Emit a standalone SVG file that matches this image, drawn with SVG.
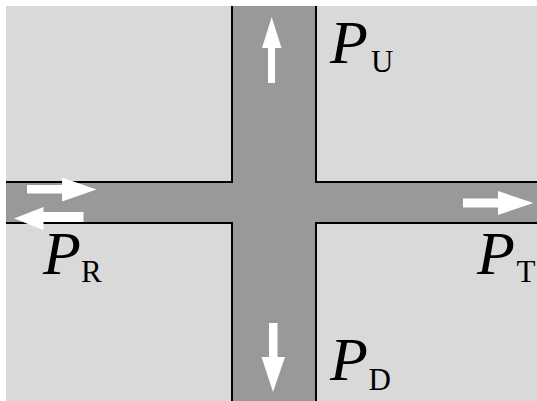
<svg xmlns="http://www.w3.org/2000/svg" width="537" height="401" viewBox="0 0 537 401">
<style>
.edge{fill:none;stroke:#000;stroke-width:2}
.arr{fill:#fff}
.P{font-family:"Liberation Serif",serif;font-style:italic;font-size:62px;fill:#000}
.s{font-family:"Liberation Serif",serif;font-size:31px;fill:#000}
</style>
<rect x="0" y="0" width="537" height="401" fill="#fff"/>
<rect x="6" y="6" width="531" height="395" fill="#d9d9d9"/>
<g id="roads">
<rect x="232" y="6" width="84" height="395" fill="#999"/>
<rect x="6" y="182" width="531" height="41" fill="#999"/>
</g>
<g id="connectors">
<polyline class="edge" points="6,182 232,182 232,6"/>
<polyline class="edge" points="316,6 316,182 537,182"/>
<polyline class="edge" points="6,223 232,223 232,401"/>
<polyline class="edge" points="537,223 316,223 316,401"/>
</g>
<g id="arrow-up"><polygon class="arr" points="268,83 268,48 262,48 271.7,17 281.5,48 275,48 275,83"/></g>
<g id="arrow-down"><polygon class="arr" points="269,323 269,357 261.5,357 273,392 285,357 277.5,357 277.5,323"/></g>
<g id="arrow-T"><polygon class="arr" points="463,198.5 498,198.5 498,191 533.5,203 498,215 498,207.5 463,207.5"/></g>
<g id="arrow-R-out"><polygon class="arr" points="27,185 62,185 62,177.5 96.5,189.5 62,201.5 62,193.5 27,193.5"/></g>
<g id="arrow-R-in"><polygon class="arr" points="83.5,212 43.5,212 43.5,207 14,218.5 43.5,230 43.5,222 83.5,222"/></g>
<g id="label-U"><text class="P" x="330" y="63">P</text><text class="s" x="371" y="71.5">U</text></g>
<g id="label-R"><text class="P" x="43" y="273.5">P</text><text class="s" x="81" y="281.5">R</text></g>
<g id="label-T"><text class="P" x="477" y="273.5">P</text><text class="s" x="516.5" y="281.5">T</text></g>
<g id="label-D"><text class="P" x="330" y="380">P</text><text class="s" x="368.5" y="389.5">D</text></g>
</svg>
